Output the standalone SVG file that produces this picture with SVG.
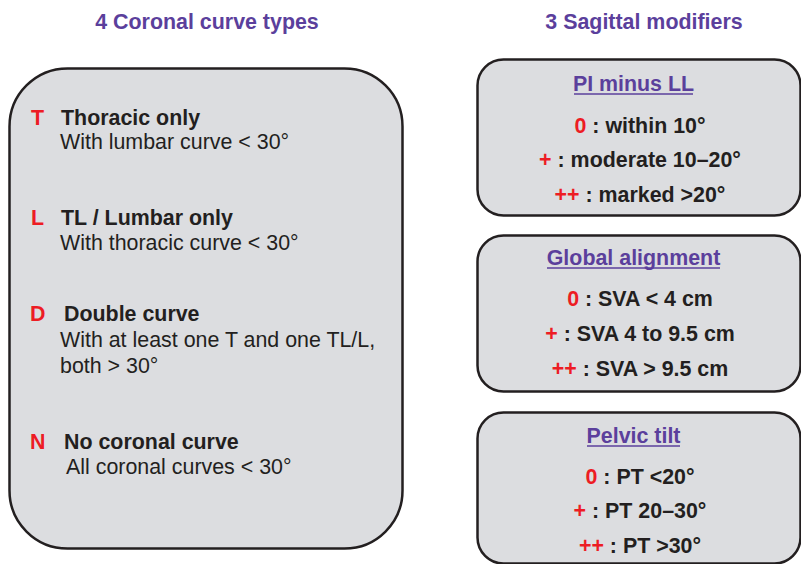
<svg xmlns="http://www.w3.org/2000/svg" width="801" height="564" viewBox="0 0 801 564">
<style>
text{font-family:"Liberation Sans",Arial,sans-serif;font-size:21.4px;fill:#231f20}
.b{font-weight:bold}
.r{fill:#ed1c24;font-weight:bold}
.t{fill:#5b3f9c;font-weight:bold}
.box{fill:#dcdde0;stroke:#231f20;stroke-width:2.5}
.ul{stroke:#5b3f9c;stroke-width:1.6}
.c{text-anchor:middle}
</style>
<rect width="801" height="564" fill="#ffffff"/>
<text class="t c" x="207" y="28.5">4 Coronal curve types</text>
<text class="t c" x="644" y="28.5">3 Sagittal modifiers</text>
<g id="coronal">
<rect class="box" x="9.5" y="68.5" width="393" height="480" rx="58" ry="58"/>
<text class="r" x="31" y="124.5">T</text>
<text class="b" x="61" y="124.5">Thoracic only</text>
<text x="60" y="149">With lumbar curve &lt; 30°</text>
<text class="r" x="31" y="224.5">L</text>
<text class="b" x="61" y="224.5">TL / Lumbar only</text>
<text x="60" y="249.5">With thoracic curve &lt; 30°</text>
<text class="r" x="30" y="320.5">D</text>
<text class="b" x="64" y="320.5">Double curve</text>
<text x="60" y="346.5">With at least one T and one TL/L,</text>
<text x="60" y="372.5">both &gt; 30°</text>
<text class="r" x="30" y="448.5">N</text>
<text class="b" x="64" y="448.5">No coronal curve</text>
<text x="66" y="473.5">All coronal curves &lt; 30°</text>
</g>
<g id="pi-ll">
<rect class="box" x="477.5" y="59.5" width="323" height="156" rx="26" ry="26"/>
<text class="t c" x="633.5" y="91">PI minus LL</text>
<line class="ul" x1="574" y1="94" x2="693" y2="94"/>
<text class="b c" x="640" y="133"><tspan class="r">0</tspan> : within 10°</text>
<text class="b c" x="640" y="167"><tspan class="r">+</tspan> : moderate 10–20°</text>
<text class="b c" x="640" y="202"><tspan class="r">++</tspan> : marked &gt;20°</text>
</g>
<g id="global">
<rect class="box" x="477.5" y="235.5" width="323" height="156" rx="26" ry="26"/>
<text class="t c" x="633.5" y="265">Global alignment</text>
<line class="ul" x1="547" y1="268" x2="720" y2="268"/>
<text class="b c" x="640" y="306"><tspan class="r">0</tspan> : SVA &lt; 4 cm</text>
<text class="b c" x="640" y="341"><tspan class="r">+</tspan> : SVA 4 to 9.5 cm</text>
<text class="b c" x="640" y="376"><tspan class="r">++</tspan> : SVA &gt; 9.5 cm</text>
</g>
<g id="pelvic">
<rect class="box" x="477.5" y="412.5" width="323" height="151" rx="26" ry="26"/>
<text class="t c" x="633.5" y="443">Pelvic tilt</text>
<line class="ul" x1="587" y1="446" x2="680" y2="446"/>
<text class="b c" x="640" y="484"><tspan class="r">0</tspan> : PT &lt;20°</text>
<text class="b c" x="640" y="518"><tspan class="r">+</tspan> : PT 20–30°</text>
<text class="b c" x="640" y="553"><tspan class="r">++</tspan> : PT &gt;30°</text>
</g>
<g id="connectors"></g>
</svg>
